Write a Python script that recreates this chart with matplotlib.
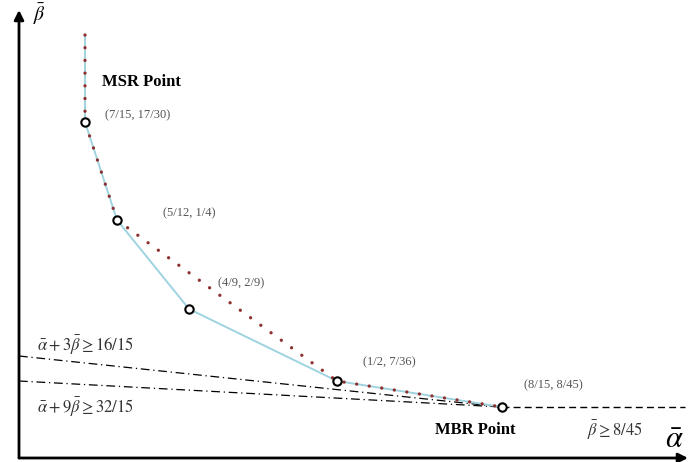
import matplotlib.pyplot as plt

# schematic tradeoff curve (alpha_bar, beta_bar)
curve_alpha = [0.66, 0.66, 0.98, 1.70, 3.18, 4.83]
curve_beta = [4.23, 3.36, 2.38, 1.49, 0.77, 0.51]

# dotted bound (straight chord between corner points)
bound_alpha = [0.66, 0.66, 0.98, 3.18, 4.83]
bound_beta = [4.23, 3.36, 2.38, 0.77, 0.51]

# marked corner points
pt_alpha = [0.66, 0.98, 1.70, 3.18, 4.83]
pt_beta = [3.36, 2.38, 1.49, 0.77, 0.51]

# constraint lines ending at the MBR point
line3_beta0 = 1.02
line9_beta0 = 0.77
mbr_alpha, mbr_beta = 4.83, 0.51
alpha_end = 6.66

plt.rcParams['font.family'] = ['Liberation Serif', 'DejaVu Serif']
plt.rcParams['mathtext.fontset'] = 'stix'

fig = plt.figure(figsize=(6.88, 4.62), dpi=100)
ax = fig.add_axes([0, 0, 1, 1])
ax.set_xlim(-0.19, 6.69)
ax.set_ylim(-0.04, 4.58)
ax.axis('off')

ax.plot([0, mbr_alpha], [line3_beta0, mbr_beta], color='k', lw=0.9,
        linestyle=(0, (7, 3, 1, 3)))
ax.plot([0, mbr_alpha], [line9_beta0, mbr_beta], color='k', lw=0.9,
        linestyle=(0, (7, 3, 1, 3)))
ax.plot([mbr_alpha, alpha_end], [mbr_beta, mbr_beta], color='k', lw=1.0,
        linestyle=(0, (5, 3)))

ax.plot(curve_alpha, curve_beta, color='#9ed3df', lw=1.4)
ax.plot(bound_alpha, bound_beta, color='#8e3030', lw=2.4,
        linestyle=(0, (0.01, 3.8)), dash_capstyle='round')
ax.plot(pt_alpha, pt_beta, 'o', mfc='white', mec='k', ms=6, mew=1.5)

# axes arrows
ax.annotate('', xy=(6.69, 0), xytext=(0, 0),
            arrowprops=dict(arrowstyle='-|>', lw=2, color='k', mutation_scale=14,
                            shrinkA=0, shrinkB=0))
ax.annotate('', xy=(0, 4.48), xytext=(0, 0),
            arrowprops=dict(arrowstyle='-|>', lw=2, color='k', mutation_scale=14,
                            shrinkA=0, shrinkB=0))
ax.text(0.20, 4.44, r'$\bar{\beta}$', fontsize=14, ha='center', va='center')
ax.text(6.55, 0.18, r'$\bar{\alpha}$', fontsize=22, ha='center', va='center')

ax.text(0.83, 3.76, 'MSR Point', fontsize=12, fontweight='bold', va='center')
ax.text(4.16, 0.28, 'MBR Point', fontsize=12, fontweight='bold', va='center')

lab = dict(fontsize=9, color='#555555', va='center')
ax.text(0.86, 3.43, '(7/15, 17/30)', **lab)
ax.text(1.44, 2.45, '(5/12, 1/4)', **lab)
ax.text(1.99, 1.75, '(4/9, 2/9)', **lab)
ax.text(3.44, 0.96, '(1/2, 7/36)', **lab)
ax.text(5.05, 0.73, '(8/15, 8/45)', **lab)

ax.text(5.68, 0.28, r'$\bar{\beta}\geq 8/45$', fontsize=12, color='#333333', va='center')
ax.text(0.18, 1.13, r'$\bar{\alpha}+3\bar{\beta}\geq 16/15$', fontsize=12,
        color='#333333', va='center')
ax.text(0.18, 0.51, r'$\bar{\alpha}+9\bar{\beta}\geq 32/15$', fontsize=12,
        color='#333333', va='center')

fig.savefig('out.png', dpi=100)
